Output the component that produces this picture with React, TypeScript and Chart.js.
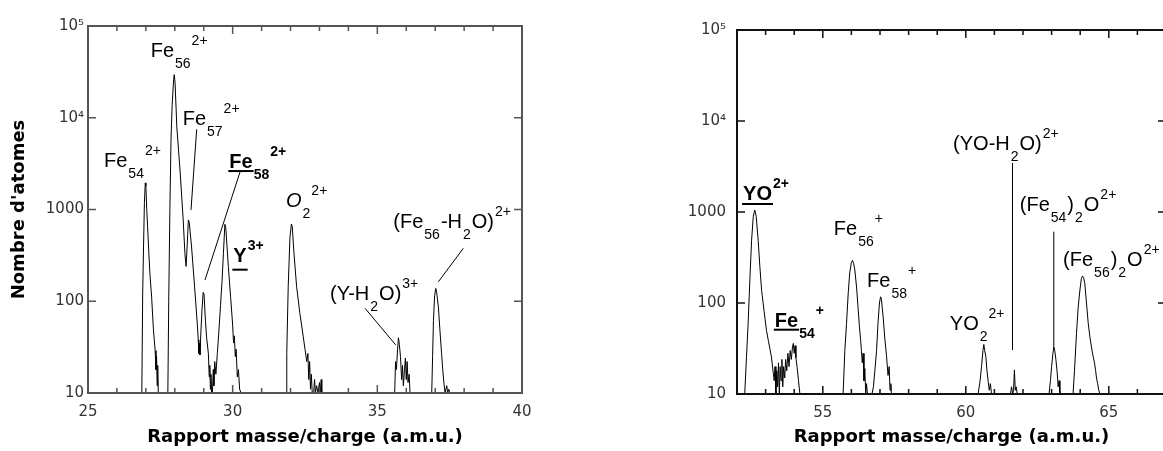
import React, { useEffect, useRef } from 'react';
import { Chart, registerables } from 'chart.js';

Chart.register(...registerables);

// ---------- data: left panel (m/z 25-40) ----------
const leftMass = [
  26.86, 26.89, 26.92, 26.95, 26.98, 27.0, 27.03, 27.06, 27.1, 27.14, 27.2, 27.26, 27.32, 27.35, 27.37, 27.39, 27.41, 27.43,
  27.76, 27.79, 27.83, 27.87, 27.91, 27.96, 27.98, 28.01, 28.07, 28.18, 28.29, 28.35, 28.39, 28.43, 28.47, 28.5, 28.58, 28.7,
  28.78, 28.81, 28.83, 28.85, 28.87, 28.9, 28.94, 28.98, 29.01, 29.06, 29.1, 29.16, 29.19, 29.21, 29.23, 29.25, 29.27,
  29.3, 29.33, 29.35, 29.38, 29.42, 29.47, 29.52, 29.58, 29.63, 29.68, 29.73, 29.76, 29.8, 29.85, 29.93, 30.0, 30.03, 30.06,
  30.09, 30.12, 30.16, 30.2, 30.24, 30.29,
  31.85, 31.87, 31.92, 31.98, 32.03, 32.06, 32.12, 32.21, 32.32, 32.44, 32.5, 32.56, 32.6, 32.63, 32.66, 32.69, 32.72, 32.75,
  32.8, 32.83, 32.86, 32.9, 32.95, 33.0, 33.03, 33.06, 33.08,
  35.6, 35.63, 35.66, 35.7, 35.73, 35.76, 35.8, 35.84, 35.87, 35.9, 35.94, 35.97, 36.0, 36.03, 36.06, 36.1, 36.13,
  36.88, 36.91, 36.94, 36.98, 37.02, 37.05, 37.11, 37.16, 37.22, 37.26, 37.3, 37.34, 37.4, 37.43, 37.47, 37.5,
];
const leftCount = [
  10, 120, 400, 1200, 1950, 1800, 1000, 650, 350, 200, 110, 50, 29, 18, 25, 12, 20, 10,
  10, 100, 1000, 6000, 14000, 26000, 29500, 24000, 7900, 2700, 770, 330, 240, 420, 770, 720, 390, 123,
  55, 38, 27, 35, 26, 45, 80, 125, 120, 60, 40, 27, 15, 20, 11, 16, 10,
  10, 18, 12, 22, 16, 27, 45, 90, 160, 330, 690, 640, 420, 240, 110, 55, 35, 42,
  25, 30, 15, 18, 11, 10,
  10, 27, 145, 500, 695, 650, 330, 145, 75, 41, 30, 22, 27, 14, 22, 11, 16, 10,
  10, 14, 10, 12, 10, 13, 10, 14, 10,
  10, 22, 18, 30, 40, 34, 25, 14, 20, 12, 18, 24, 14, 22, 13, 16, 10,
  10, 25, 62, 115, 138, 125, 87, 50, 27, 18, 13, 10, 12, 10, 11, 10,
];

// ---------- data: right panel (m/z 52-67) ----------
const rightMass = [
  52.27, 52.33, 52.39, 52.45, 52.51, 52.57, 52.62, 52.67, 52.74, 52.8, 52.86, 52.95, 53.03, 53.1, 53.2, 53.26, 53.3, 53.33,
  53.36, 53.39, 53.42, 53.45, 53.48, 53.51, 53.54, 53.57, 53.6, 53.63, 53.67, 53.7, 53.74, 53.78, 53.82, 53.86, 53.9, 53.94,
  53.97, 54.0, 54.03, 54.06, 54.1, 54.15, 54.2,
  55.71, 55.77, 55.83, 55.89, 55.94, 56.0, 56.04, 56.08, 56.12, 56.18, 56.23, 56.28, 56.32, 56.35, 56.38, 56.41, 56.44, 56.47,
  56.5, 56.53, 56.56,
  56.72, 56.77, 56.82, 56.88, 56.93, 56.98, 57.02, 57.05, 57.11, 57.17, 57.23, 57.28, 57.32, 57.35, 57.38, 57.4,
  60.43, 60.5, 60.55, 60.6, 60.63, 60.66, 60.7, 60.74, 60.78, 60.82, 60.86, 60.9,
  61.56, 61.6, 61.64, 61.67, 61.7, 61.73, 61.76, 61.8, 61.83,
  62.91, 62.96, 63.0, 63.04, 63.08, 63.11, 63.15, 63.19, 63.23, 63.26, 63.29,
  63.75, 63.8, 63.87, 63.93, 63.99, 64.04, 64.08, 64.12, 64.16, 64.22, 64.28, 64.34, 64.4, 64.45, 64.5, 64.54, 64.57, 64.61,
  64.65, 64.69,
];
const rightCount = [
  10, 25, 60, 180, 490, 900, 1050, 900, 490, 250, 138, 80, 50, 38, 26, 18, 14, 20,
  10, 18, 12, 22, 10, 20, 14, 24, 12, 20, 15, 24, 18, 28, 20, 30, 24, 33,
  36, 28, 34, 25, 20, 14, 10,
  10, 30, 60, 130, 213, 280, 294, 270, 230, 150, 91, 55, 40, 30, 22, 28, 14, 19,
  10, 13, 10,
  10, 12, 18, 30, 60, 100, 117, 110, 70, 40, 26, 16, 20, 11, 13, 10,
  10, 14, 20, 30, 35, 30, 26, 18, 14, 11, 13, 10,
  10, 12, 10, 11, 18.4, 11, 12, 10, 10,
  10, 14, 20, 27, 33, 30, 24, 18, 12, 14, 10,
  10, 18, 46, 90, 139, 185, 198, 190, 165, 100, 60, 42, 32, 26, 22, 18, 15, 13,
  11, 10,
];

// ---------- axes ----------
const yTickValues = [10, 100, 1000, 10000, 100000];
const yTickLabels = ['10', '100', '1000', '10⁴', '10⁵'];
const leftXTicks = [25, 30, 35, 40];
const rightXTicks = [55, 60, 65];
const xTitle = 'Rapport masse/charge (a.m.u.)';
const yTitle = "Nombre d'atomes";

// ---------- annotations (data coordinates) ----------
type Part = { t: string; k?: 'sub' | 'sup' };
type Note = { m: number; v: number; parts: Part[]; bold?: boolean; italic?: boolean; underline?: number };

const leftNotes: Note[] = [
  { m: 25.553, v: 2924, parts: [{ t: 'Fe' }, { t: '54', k: 'sub' }, { t: '2+', k: 'sup' }] },
  { m: 27.167, v: 46200, parts: [{ t: 'Fe' }, { t: '56', k: 'sub' }, { t: '2+', k: 'sup' }] },
  { m: 28.273, v: 8340, parts: [{ t: 'Fe' }, { t: '57', k: 'sub' }, { t: '2+', k: 'sup' }] },
  { m: 29.884, v: 2830, bold: true, underline: 3, parts: [{ t: 'Fe' }, { t: '58', k: 'sub' }, { t: '2+', k: 'sup' }] },
  { m: 30.022, v: 270, bold: true, underline: 8, parts: [{ t: 'Y' }, { t: '3+', k: 'sup' }] },
  { m: 31.844, v: 1074, italic: true, parts: [{ t: 'O' }, { t: '2', k: 'sub' }, { t: '2+', k: 'sup' }] },
  { m: 33.365, v: 103, parts: [{ t: '(Y-H' }, { t: '2', k: 'sub' }, { t: 'O)' }, { t: '3+', k: 'sup' }] },
  { m: 35.553, v: 628, parts: [{ t: '(Fe' }, { t: '56', k: 'sub' }, { t: '-H' }, { t: '2', k: 'sub' }, { t: 'O)' }, { t: '2+', k: 'sup' }] },
];
const leftLeaders = [
  [28.757, 7480, 28.56, 989],
  [30.254, 2564, 29.044, 170.6],
  [34.575, 83.8, 35.636, 33.4],
  [37.973, 377.6, 37.109, 163],
];

const rightNotes: Note[] = [
  { m: 52.213, v: 1355, bold: true, underline: 4, parts: [{ t: 'YO' }, { t: '2+', k: 'sup' }] },
  { m: 53.322, v: 54.9, bold: true, underline: 3, parts: [{ t: 'Fe' }, { t: '54', k: 'sub' }, { t: '+', k: 'sup' }] },
  { m: 55.385, v: 558, parts: [{ t: 'Fe' }, { t: '56', k: 'sub' }, { t: '+', k: 'sup' }] },
  { m: 56.549, v: 151, parts: [{ t: 'Fe' }, { t: '58', k: 'sub' }, { t: '+', k: 'sup' }] },
  { m: 59.441, v: 50.5, parts: [{ t: 'YO' }, { t: '2', k: 'sub' }, { t: '2+', k: 'sup' }] },
  { m: 59.556, v: 4800, parts: [{ t: '(YO-H' }, { t: '2', k: 'sub' }, { t: 'O)' }, { t: '2+', k: 'sup' }] },
  { m: 61.888, v: 1026, parts: [{ t: '(Fe' }, { t: '54', k: 'sub' }, { t: ')' }, { t: '2', k: 'sub' }, { t: 'O' }, { t: '2+', k: 'sup' }] },
  { m: 63.402, v: 255, parts: [{ t: '(Fe' }, { t: '56', k: 'sub' }, { t: ')' }, { t: '2', k: 'sub' }, { t: 'O' }, { t: '2+', k: 'sup' }] },
];
const rightLeaders = [
  [61.633, 3451, 61.633, 30.4],
  [63.077, 608, 63.077, 33.1],
];

// ---------- panel layout ----------
type PanelCfg = {
  mass: number[]; count: number[]; xMin: number; xMax: number; xTicks: number[];
  notes: Note[]; leaders: number[][]; yTitle?: string;
  canvasLeft: number; canvasWidth: number;
  areaLeft: number; areaTop: number; areaRight: number; areaBottom: number;
  frameColor: string; yLabelPad: number;
};

const H = 451;
const LABEL_FONT = '"Liberation Sans", Arial, sans-serif';

const panels: PanelCfg[] = [
  {
    mass: leftMass, count: leftCount, xMin: 25, xMax: 40, xTicks: leftXTicks,
    notes: leftNotes, leaders: leftLeaders, yTitle,
    canvasLeft: 0, canvasWidth: 560,
    areaLeft: 88, areaTop: 26, areaRight: 522, areaBottom: 393,
    frameColor: '#555', yLabelPad: 4,
  },
  {
    mass: rightMass, count: rightCount, xMin: 52, xMax: 67, xTicks: rightXTicks,
    notes: rightNotes, leaders: rightLeaders,
    canvasLeft: 600, canvasWidth: 580,
    areaLeft: 137, areaTop: 30, areaRight: 566, areaBottom: 394,
    frameColor: '#111', yLabelPad: 11,
  },
];

function drawNote(ctx: CanvasRenderingContext2D, x0: number, y0: number, note: Note) {
  let cx = x0;
  note.parts.forEach((p, i) => {
    const main = !p.k;
    const size = main ? 20 : 14;
    const style = (note.italic && main ? 'italic ' : '') + (note.bold ? 'bold ' : '');
    ctx.font = `${style}${size}px ${LABEL_FONT}`;
    const dy = p.k === 'sub' ? 11 : p.k === 'sup' ? -12 : 0;
    ctx.fillText(p.t, cx, y0 + dy);
    const w = ctx.measureText(p.t).width;
    if (i === 0 && note.underline != null) {
      ctx.beginPath();
      ctx.lineWidth = 2;
      ctx.moveTo(cx - 1, y0 + note.underline);
      ctx.lineTo(cx + w + 1, y0 + note.underline);
      ctx.stroke();
    }
    cx += w + 1;
  });
}

function Panel({ cfg }: { cfg: PanelCfg }) {
  const ref = useRef<HTMLCanvasElement>(null);
  useEffect(() => {
    const canvas = ref.current!;
    const framePlugin = {
      id: 'frame',
      afterDraw(chart: any) {
        const { ctx, chartArea, scales } = chart;
        const { left, top, right, bottom } = chartArea;
        const x = scales.x, y = scales.y;
        ctx.save();
        ctx.strokeStyle = cfg.frameColor;
        ctx.lineWidth = 2;
        ctx.strokeRect(left, top, right - left, bottom - top);
        ctx.lineWidth = 1.5;
        ctx.beginPath();
        for (const v of yTickValues) {
          const py = y.getPixelForValue(v);
          ctx.moveTo(left, py); ctx.lineTo(left + 8, py);
          ctx.moveTo(right, py); ctx.lineTo(right - 8, py);
        }
        for (let m = Math.ceil(cfg.xMin); m <= cfg.xMax; m++) {
          const px = x.getPixelForValue(m);
          const len = m % 5 === 0 ? 8 : 5;
          ctx.moveTo(px, bottom); ctx.lineTo(px, bottom - len);
          ctx.moveTo(px, top); ctx.lineTo(px, top + len);
        }
        ctx.stroke();
        // annotations
        ctx.strokeStyle = '#000';
        ctx.fillStyle = '#000';
        ctx.lineWidth = 1;
        ctx.beginPath();
        for (const [m1, v1, m2, v2] of cfg.leaders) {
          ctx.moveTo(x.getPixelForValue(m1), y.getPixelForValue(v1));
          ctx.lineTo(x.getPixelForValue(m2), y.getPixelForValue(v2));
        }
        ctx.stroke();
        ctx.textAlign = 'left';
        ctx.textBaseline = 'alphabetic';
        for (const n of cfg.notes) {
          drawNote(ctx, x.getPixelForValue(n.m), y.getPixelForValue(n.v), n);
        }
        ctx.restore();
      },
    };
    const chart = new Chart(canvas, {
      type: 'line',
      data: {
        datasets: [{
          data: cfg.mass.map((m, i) => ({ x: m, y: cfg.count[i] })),
          borderColor: '#000',
          borderWidth: 1,
          pointRadius: 0,
          tension: 0,
          fill: false,
        }],
      },
      options: {
        responsive: false,
        animation: false,
        events: [],
        layout: { padding: { left: 0, top: cfg.areaTop, right: cfg.canvasWidth - cfg.areaRight, bottom: 0 } },
        plugins: { legend: { display: false }, tooltip: { enabled: false } },
        scales: {
          x: {
            type: 'linear',
            min: cfg.xMin,
            max: cfg.xMax,
            grid: { display: false, drawTicks: false },
            border: { display: false },
            ticks: {
              font: { family: '"DejaVu Sans", sans-serif', size: 15 },
              color: '#333',
              padding: 10,
              maxRotation: 0,
              autoSkip: false,
              callback: (v: any) => String(v),
            },
            afterBuildTicks: (s: any) => { s.ticks = cfg.xTicks.map((v) => ({ value: v })); },
            afterFit: (s: any) => { s.height = H - cfg.areaBottom; },
            title: {
              display: true,
              text: xTitle,
              color: '#000',
              font: { family: '"DejaVu Sans", sans-serif', size: 18, weight: 'bold' },
              padding: { top: 0, bottom: 3 },
            },
          },
          y: {
            type: 'logarithmic',
            min: 10,
            max: 100000,
            grid: { display: false, drawTicks: false },
            border: { display: false },
            ticks: {
              font: { family: '"DejaVu Sans", sans-serif', size: 15 },
              color: '#333',
              padding: cfg.yLabelPad,
              autoSkip: false,
              callback: (v: any) => {
                const i = yTickValues.indexOf(Number(v));
                return i >= 0 ? yTickLabels[i] : '';
              },
            },
            afterBuildTicks: (s: any) => { s.ticks = yTickValues.map((v) => ({ value: v })); },
            afterFit: (s: any) => { s.width = cfg.areaLeft; },
            title: {
              display: !!cfg.yTitle,
              text: cfg.yTitle || '',
              color: '#000',
              font: { family: '"DejaVu Sans", sans-serif', size: 18, weight: 'bold' },
              padding: { top: 9, bottom: 0 },
            },
          },
        },
      },
      plugins: [framePlugin],
    } as any);
    return () => chart.destroy();
  }, [cfg]);
  return (
    <canvas
      ref={ref}
      width={cfg.canvasWidth}
      height={H}
      style={{ position: 'absolute', left: cfg.canvasLeft, top: 0, width: cfg.canvasWidth, height: H, display: 'block' }}
    />
  );
}

export default function App() {
  return (
    <div style={{ position: 'fixed', left: 0, top: 0, width: 1163, height: H, overflow: 'hidden', background: '#fff' }}>
      {panels.map((p, i) => (
        <Panel key={i} cfg={p} />
      ))}
    </div>
  );
}
